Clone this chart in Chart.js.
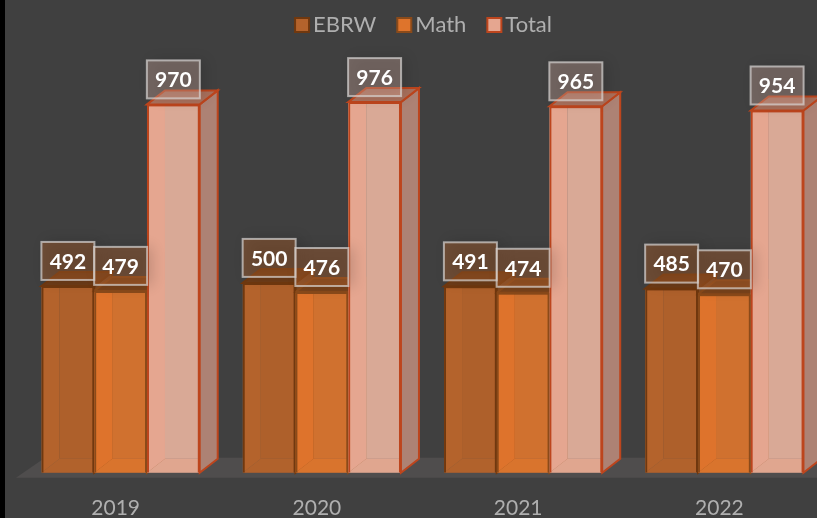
<!DOCTYPE html>
<html>
<head>
<meta charset="utf-8">
<title>SAT scores</title>
<script src="https://cdn.jsdelivr.net/npm/chart.js@4"></script>
<style>
  html, body { margin: 0; padding: 0; width: 817px; height: 518px; overflow: hidden; background: #000; }
  canvas { position: absolute; left: 5px; top: 0; }
</style>
</head>
<body>
<canvas id="grafico" width="820" height="544"></canvas>
<script>
// Dados //
const anos = ['2019', '2020', '2021', '2022'];
const ebrw = [492, 500, 491, 485];
const math = [479, 476, 474, 470];
const total = [970, 976, 965, 954];
const nomes = ['EBRW', 'Math', 'Total'];

// Cores de cada série //
const frente = ['rgba(180,99,44,.45)', 'rgba(222,116,44,.45)', 'rgba(229,166,144,.45)'];
const borda = ['#70380f', '#8a4a1a', '#bd451d'];
const fundoBarra = ['#a95d2a', '#c56f32', '#cfab9c'];
const esquerda = ['#b4632c', '#de742c', '#e5a690'];
const chaoBarra = ['#b0622c', '#d6762f', '#dca68f'];
const lado = ['#7d4a26', '#9a5a2c', '#ad8274'];
const topo = ['#6e3c18', '#7a431b', '#a9705c'];
const caixa = ['rgba(178,98,42,.4)', 'rgba(190,105,50,.36)', 'rgba(232,190,175,.3)'];

const fonte = 'Lato, sans-serif';
const dx = 18, dy = -14;

function poligono(ctx, pontos, fill, stroke) {
    ctx.beginPath();
    pontos.forEach((p, i) => i ? ctx.lineTo(p[0], p[1]) : ctx.moveTo(p[0], p[1]));
    ctx.closePath();
    if (fill) { ctx.fillStyle = fill; ctx.fill(); }
    if (stroke) { ctx.strokeStyle = stroke; ctx.lineWidth = 2; ctx.stroke(); }
}

// Chão e faces 3D atrás das barras //
const faces3d = {
    id: 'faces3d',
    beforeDatasetsDraw(chart) {
        const ctx = chart.ctx;
        const base = chart.scales.y.getPixelForValue(0);
        ctx.save();
        poligono(ctx, [[11, base + 5], [40, base - 15], [chart.width, base - 15], [chart.width, base + 5]], '#4f4d4d');
        chart.data.datasets.forEach((ds, i) => {
            chart.getDatasetMeta(i).data.forEach(bar => {
                const l = bar.x - bar.width / 2, r = bar.x + bar.width / 2, t = bar.y, b = bar.base;
                poligono(ctx, [[l, t], [l + dx, t + dy], [l + dx, b + dy], [l, b]], esquerda[i]);
                poligono(ctx, [[l + dx, t + dy], [r + dx, t + dy], [r + dx, b + dy], [l + dx, b + dy]], fundoBarra[i]);
                poligono(ctx, [[l, b], [l + dx, b + dy], [r + dx, b + dy], [r, b]], chaoBarra[i]);
                poligono(ctx, [[r, t], [r + dx, t + dy], [r + dx, b + dy], [r, b]], lado[i], borda[i]);
                poligono(ctx, [[l, t], [l + dx, t + dy], [r + dx, t + dy], [r, t]], topo[i], borda[i]);
            });
        });
        ctx.restore();
    }
};

// Caixas com os valores //
const rotulos = {
    id: 'rotulos',
    afterDatasetsDraw(chart) {
        const ctx = chart.ctx;
        chart.data.datasets.forEach((ds, i) => {
            chart.getDatasetMeta(i).data.forEach((bar, j) => {
                const w = 53, h = 38;
                const x = bar.x - w / 2, y = bar.y - 6 - h;
                ctx.save();
                ctx.shadowColor = 'rgba(0,0,0,.45)';
                ctx.shadowBlur = 14;
                ctx.shadowOffsetX = 5;
                ctx.fillStyle = caixa[i];
                ctx.fillRect(x, y, w, h);
                ctx.restore();
                ctx.save();
                ctx.strokeStyle = 'rgba(217,214,212,.7)';
                ctx.lineWidth = 2;
                ctx.strokeRect(x, y, w, h);
                ctx.fillStyle = '#ffffff';
                ctx.font = 'bold 21px ' + fonte;
                ctx.textAlign = 'center';
                ctx.textBaseline = 'middle';
                ctx.fillText(ds.data[j], bar.x, y + h / 2 + 1);
                ctx.restore();
            });
        });
    }
};

// Legenda //
const legenda = {
    id: 'legenda',
    afterDraw(chart) {
        const ctx = chart.ctx;
        ctx.save();
        ctx.font = '22px ' + fonte;
        ctx.textBaseline = 'middle';
        const larguras = nomes.map(n => ctx.measureText(n).width);
        const soma = larguras.reduce((a, b) => a + b, 0) + nomes.length * 19 + (nomes.length - 1) * 20;
        let x = 418 - soma / 2;
        nomes.forEach((n, i) => {
            ctx.fillStyle = esquerda[i];
            ctx.strokeStyle = borda[i];
            ctx.lineWidth = 2;
            ctx.fillRect(x + 1, 18, 14, 14);
            ctx.strokeRect(x + 1, 18, 14, 14);
            ctx.fillStyle = '#afafaf';
            ctx.fillText(n, x + 19, 25);
            x += 19 + larguras[i] + 20;
        });
        ctx.restore();
    }
};

new Chart(document.getElementById('grafico'), {
    type: 'bar',
    data: {
        labels: anos,
        datasets: [ebrw, math, total].map((valores, i) => ({
            label: nomes[i],
            data: valores,
            backgroundColor: frente[i],
            borderColor: borda[i],
            borderWidth: 2
        }))
    },
    plugins: [
        { id: 'fundo', beforeDraw(c) { c.ctx.fillStyle = '#404040'; c.ctx.fillRect(0, 0, c.width, c.height); } },
        faces3d, rotulos, legenda
    ],
    options: {
        responsive: false,
        animation: false,
        layout: { padding: { left: 15, right: 0, top: 93, bottom: 0 } },
        datasets: { bar: { barPercentage: 1, categoryPercentage: 0.786 } },
        plugins: { legend: { display: false }, tooltip: { enabled: false } },
        scales: {
            x: {
                grid: { display: false, drawTicks: false },
                border: { display: false },
                ticks: { color: '#afafaf', font: { family: fonte, size: 21 }, labelOffset: -5, padding: 23, maxRotation: 0 }
            },
            y: { display: false, min: 0, max: 1000 }
        }
    }
});
</script>
</body>
</html>
